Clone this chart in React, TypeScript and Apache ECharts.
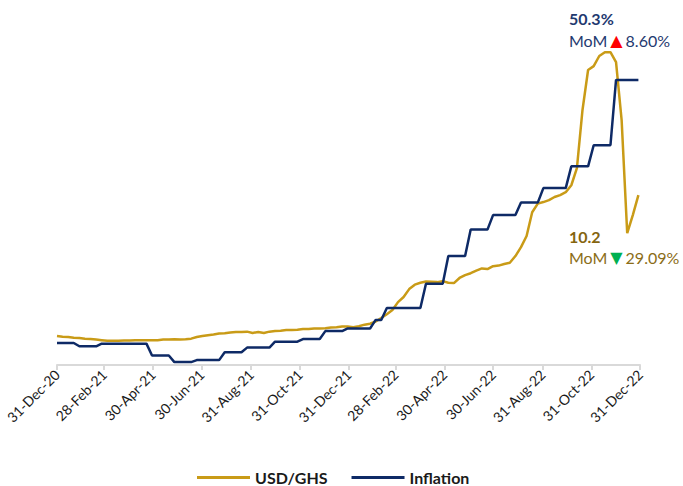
import React, { useEffect, useRef } from "react";
import * as echarts from "echarts";

const DAY = 86400000;
const START = Date.UTC(2020, 11, 31);
const END = Date.UTC(2022, 11, 31);

// weekly observation dates
const weekDates: number[] = Array.from({ length: 105 }, (_, i) => START + i * 7 * DAY);

// USD/GHS exchange rate (weekly)
const usdGhs: number[] = [
  5.76, 5.74, 5.73, 5.71, 5.7, 5.68, 5.67, 5.65, 5.63, 5.61,
  5.61, 5.61, 5.62, 5.62, 5.63, 5.63, 5.63, 5.63, 5.63, 5.65,
  5.65, 5.66, 5.65, 5.66, 5.68, 5.73, 5.76, 5.79, 5.81, 5.84,
  5.85, 5.87, 5.89, 5.89, 5.9, 5.86, 5.89, 5.86, 5.9, 5.92,
  5.93, 5.95, 5.95, 5.96, 5.98, 5.98, 6.0, 6.0, 6.01, 6.03,
  6.04, 6.06, 6.06, 6.04, 6.07, 6.12, 6.15, 6.22, 6.33, 6.45,
  6.58, 6.83, 6.99, 7.24, 7.38, 7.44, 7.48, 7.47, 7.46, 7.49,
  7.44, 7.43, 7.59, 7.68, 7.74, 7.82, 7.89, 7.87, 7.96, 7.98,
  8.03, 8.07, 8.28, 8.56, 8.91, 9.66, 9.93, 9.98, 10.04, 10.14,
  10.2, 10.29, 10.51, 11.05, 12.88, 14.14, 14.26, 14.58, 14.7, 14.7,
  14.39, 12.56, 9.0, 9.57, 10.2,
];

// Inflation (%), value in force each week
const inflation: number[] = [
  10.4, 10.4, 10.4, 10.4,
  9.9, 9.9, 9.9, 9.9,
  10.3, 10.3, 10.3, 10.3, 10.3, 10.3, 10.3, 10.3, 10.3,
  8.5, 8.5, 8.5, 8.5,
  7.5, 7.5, 7.5, 7.5,
  7.8, 7.8, 7.8, 7.8, 7.8,
  9.0, 9.0, 9.0, 9.0,
  9.7, 9.7, 9.7, 9.7, 9.7,
  10.6, 10.6, 10.6, 10.6, 10.6,
  11.0, 11.0, 11.0, 11.0,
  12.2, 12.2, 12.2, 12.2,
  12.6, 12.6, 12.6, 12.6, 12.6,
  13.9, 13.9,
  15.7, 15.7, 15.7, 15.7, 15.7, 15.7, 15.7,
  19.4, 19.4, 19.4, 19.4,
  23.6, 23.6, 23.6, 23.6,
  27.6, 27.6, 27.6, 27.6,
  29.8, 29.8, 29.8, 29.8, 29.8,
  31.7, 31.7, 31.7, 31.7,
  33.9, 33.9, 33.9, 33.9, 33.9,
  37.2, 37.2, 37.2, 37.2,
  40.4, 40.4, 40.4, 40.4,
  50.3, 50.3, 50.3, 50.3, 50.3,
];

// x-axis tick dates
const tickDates: number[] = [
  Date.UTC(2020, 11, 31), Date.UTC(2021, 1, 28), Date.UTC(2021, 3, 30),
  Date.UTC(2021, 5, 30), Date.UTC(2021, 7, 31), Date.UTC(2021, 9, 31),
  Date.UTC(2021, 11, 31), Date.UTC(2022, 1, 28), Date.UTC(2022, 3, 30),
  Date.UTC(2022, 5, 30), Date.UTC(2022, 7, 31), Date.UTC(2022, 9, 31),
  Date.UTC(2022, 11, 31),
];

const MONTHS = ["Jan", "Feb", "Mar", "Apr", "May", "Jun", "Jul", "Aug", "Sep", "Oct", "Nov", "Dec"];
const fmtDate = (v: number) => {
  const d = new Date(v);
  return `${d.getUTCDate()}-${MONTHS[d.getUTCMonth()]}-${String(d.getUTCFullYear()).slice(2)}`;
};

const GOLD = "#c99b17";
const NAVY = "#0e2a66";
const FONT = "Lato, 'Open Sans', sans-serif";

export default function App() {
  const ref = useRef<HTMLDivElement>(null);
  useEffect(() => {
    if (!ref.current) return;
    const chart = echarts.init(ref.current, undefined, { renderer: "svg" });
    chart.setOption({
      animation: false,
      backgroundColor: "#ffffff",
      textStyle: { fontFamily: FONT },
      grid: { left: 57, right: 43, top: 49, bottom: 121, outerBoundsMode: "none", containLabel: false },
      legend: {
        left: 197,
        top: 469,
        icon: "rect",
        itemWidth: 53,
        itemHeight: 3,
        itemGap: 24,
        padding: 0,
        textStyle: { fontFamily: FONT, fontSize: 16, lineHeight: 17, fontWeight: "bold", color: "#1a1a1a" },
        data: ["USD/GHS", "Inflation"],
      },
      xAxis: {
        type: "value",
        min: START,
        max: END,
        splitLine: { show: false },
        axisLine: { show: true, lineStyle: { color: "#d9d9d9", width: 2 } },
        axisTick: { show: true, customValues: tickDates, length: 5, lineStyle: { color: "#d9d9d9", width: 2 } },
        axisLabel: {
          customValues: tickDates,
          rotate: 45,
          margin: 7,
          fontSize: 14,
          fontFamily: FONT,
          color: "#1a1a1a",
          formatter: (v: number) => fmtDate(v),
        },
      },
      yAxis: [
        { type: "value", min: 7.06, max: 55, show: false, splitLine: { show: false } },
        { type: "value", min: 4.85, max: 14.8, show: false, splitLine: { show: false } },
      ],
      series: [
        {
          name: "USD/GHS",
          type: "line",
          yAxisIndex: 1,
          showSymbol: false,
          color: GOLD,
          lineStyle: { color: GOLD, width: 2.5 },
          data: weekDates.map((d, i) => [d, usdGhs[i]]),
        },
        {
          name: "Inflation",
          type: "line",
          yAxisIndex: 0,
          showSymbol: false,
          color: NAVY,
          lineStyle: { color: NAVY, width: 2.5 },
          data: weekDates.map((d, i) => [d, inflation[i]]),
        },
      ],
      graphic: [
        {
          type: "text",
          left: 569,
          top: 10,
          style: { text: "50.3%", fontFamily: FONT, fontSize: 16, fontWeight: "bold", fill: "#1f3a70" },
        },
        {
          type: "text",
          left: 569,
          top: 32,
          style: {
            text: "MoM{up|▲}8.60%",
            fontFamily: FONT,
            fontSize: 16,
            fill: "#1f3a70",
            rich: { up: { fill: "#ff0000", fontSize: 16, fontFamily: "'DejaVu Sans'", padding: [0, 3, 0, 3] } },
          },
        },
        {
          type: "text",
          left: 569,
          top: 228,
          style: { text: "10.2", fontFamily: FONT, fontSize: 16, fontWeight: "bold", fill: "#85650f" },
        },
        {
          type: "text",
          left: 569,
          top: 249,
          style: {
            text: "MoM{dn|▼}29.09%",
            fontFamily: FONT,
            fontSize: 16,
            fill: "#8b6d17",
            rich: { dn: { fill: "#00b050", fontSize: 16, fontFamily: "'DejaVu Sans'", padding: [0, 3, 0, 3] } },
          },
        },
      ],
    });
    return () => chart.dispose();
  }, []);
  return <div ref={ref} style={{ width: 683, height: 486, position: "absolute", left: 0, top: 0 }} />;
}
